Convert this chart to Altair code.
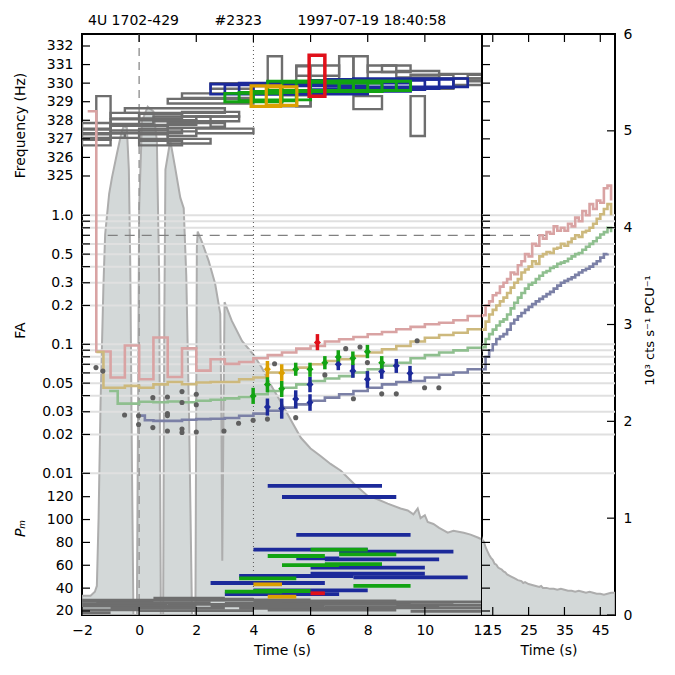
import altair as alt
import pandas as pd

FONT = "DejaVu Sans"
W_LEFT, W_RIGHT, HEIGHT = 400, 133, 581

# ---------------- scale domains ----------------
T_LEFT = [-2, 12]
T_RIGHT = [12, 49.1]
FREQ_DOMAIN = [301.36, 332.646]
FA_DOMAIN = [0.000797, 25.44]
PM_DOMAIN = [16.5, 524.7]
RATE_DOMAIN = [0, 6]

TIME_TICKS_LEFT = [-2, 0, 2, 4, 6, 8, 10, 12]
TIME_TICKS_RIGHT = [15, 25, 35, 45]
FREQ_TICKS = [325, 326, 327, 328, 329, 330, 331, 332]
FA_LABELS = [0.01, 0.02, 0.03, 0.05, 0.1, 0.2, 0.3, 0.5, 1.0]
FA_TICKS = [0.01, 0.02, 0.03, 0.04, 0.05, 0.06, 0.07, 0.08, 0.09,
            0.1, 0.2, 0.3, 0.4, 0.5, 0.6, 0.7, 0.8, 0.9, 1.0]
FA_GRID = [0.01, 0.02, 0.03, 0.04, 0.05, 0.06, 0.07, 0.08, 0.09,
           0.1, 0.2, 0.3, 0.4, 0.5, 0.6, 0.8, 0.9, 1.0]
PM_TICKS = [20, 40, 60, 80, 100, 120]
RATE_TICKS = [0, 1, 2, 3, 4, 5, 6]

# ---------------- light curve (10^3 cts/s/PCU) ----------------
lc_t = [-2.0, -1.7, -1.55, -1.48, -1.42, -1.35, -1.25, -1.19, -1.05, -0.95,
        -0.78, -0.62, -0.54, -0.43, -0.36, -0.31, -0.25, -0.2, -0.08, -0.04,
        0.0, 0.1, 0.3, 0.5, 0.62, 0.7, 0.76, 0.84, 0.88, 0.92,
        1.09, 1.26, 1.44, 1.56, 1.65, 1.75, 1.85, 1.97, 2.02, 2.05,
        2.2, 2.43, 2.66, 2.84, 2.88, 2.91, 2.95, 2.99, 3.24, 3.6,
        4.0, 4.3, 4.6, 5.0, 5.3, 5.66, 6.0, 6.36, 6.7, 7.06,
        7.5, 8.0, 8.3, 8.7, 9.15, 9.4, 9.6, 9.75, 9.85, 10.0,
        10.1, 10.3, 10.5, 10.8, 11.0, 11.36, 11.6, 11.85, 12.0, 12.5,
        13.0, 13.5, 14.0, 14.5, 15.0, 15.5, 16.0, 16.5, 17.0, 17.5,
        18.0, 18.5, 19.0, 19.5, 20.0, 21.0, 22.0, 23.0, 23.5, 24.0,
        25.0, 26.0, 27.0, 28.0, 28.5, 29.0, 30.0, 31.0, 32.0, 33.0,
        34.0, 35.0, 36.0, 37.0, 38.0, 39.0, 40.0, 41.0, 42.0, 43.0,
        44.0, 45.0, 46.0, 47.0, 48.0, 49.1]
lc_rate = [0.2, 0.2, 0.24, 0.3, 1.0, 2.2, 3.4, 3.93, 4.35, 4.52,
           4.76, 4.98, 5.05, 5.03, 4.6, 3.6, 1.5, 0.0, 0.0, 2.0,
           4.2, 5.1, 5.25, 5.2, 4.9, 3.5, 0.0, 0.0, 3.0, 4.6,
           4.9, 4.62, 4.31, 4.2, 3.5, 2.0, 0.0, 0.0, 3.8, 3.96,
           3.85, 3.66, 3.42, 3.11, 2.0, 0.56, 2.0, 3.23, 3.04, 2.83,
           2.69, 2.55, 2.38, 2.18, 2.02, 1.83, 1.72, 1.64, 1.56, 1.49,
           1.36, 1.23, 1.2, 1.15, 1.1, 1.08, 1.04, 1.1, 1.0, 1.03,
           0.96, 0.94, 0.9, 0.85, 0.87, 0.85, 0.83, 0.8, 0.78, 0.76,
           0.7, 0.66, 0.62, 0.59, 0.57, 0.53, 0.52, 0.49, 0.48, 0.47,
           0.45, 0.44, 0.42, 0.41, 0.4, 0.38, 0.36, 0.35, 0.33, 0.34,
           0.32, 0.31, 0.3, 0.29, 0.3, 0.28, 0.28, 0.27, 0.27, 0.26,
           0.27, 0.26, 0.25, 0.25, 0.24, 0.25, 0.24, 0.23, 0.24, 0.23,
           0.22, 0.22, 0.21, 0.22, 0.23, 0.23]

# ---------------- false-alarm curves per window ----------------
fa05_t = [-1.8, -1.5, -1.0, -0.5, 0.0, 0.5, 1.0, 1.5, 2.0, 2.5, 3.0, 3.5, 4.0, 4.5,
          5.0, 5.5, 6.0, 6.5, 7.0, 7.5, 8.0, 8.5, 9.0, 9.5, 10.0, 10.5, 11.0, 11.5]
fa05_v = [6.4, 0.088, 0.0553, 0.098, 0.0536, 0.113, 0.0558, 0.093, 0.0625, 0.0765,
          0.0705, 0.073, 0.078, 0.0825, 0.0864, 0.0925, 0.097, 0.105, 0.1095, 0.114,
          0.1196, 0.1245, 0.1307, 0.1365, 0.143, 0.147, 0.1538, 0.1656]
fa1_t = [-1.5, -1.25, -0.5, 0.0, 0.5, 1.0, 1.5, 2.0, 2.5, 3.0, 3.5, 4.0, 4.5, 5.0,
         5.5, 6.0, 6.5, 7.0, 7.5, 8.0, 8.5, 9.0, 9.5, 10.0, 10.5, 11.0, 11.5]
fa1_v = [0.0872, 0.046, 0.0476, 0.046, 0.0489, 0.051, 0.049, 0.0505, 0.051, 0.051,
         0.0536, 0.0553, 0.0604, 0.063, 0.066, 0.070, 0.0743, 0.0765, 0.0812, 0.0864,
         0.0916, 0.097, 0.105, 0.1125, 0.118, 0.123, 0.1307]
fa2_t = [-1.05, -0.75, 0.0, 0.5, 1.0, 1.5, 2.0, 2.5, 3.0, 3.5, 4.0, 4.5, 5.0, 5.5,
         6.0, 6.5, 7.0, 7.5, 8.0, 8.5, 9.0, 9.5, 10.0, 10.5, 11.0, 11.5]
fa2_v = [0.0435, 0.0347, 0.0359, 0.0355, 0.036, 0.0355, 0.0365, 0.0372, 0.0381, 0.039,
         0.041, 0.0435, 0.046, 0.0489, 0.052, 0.0543, 0.0567, 0.0604, 0.064, 0.0681,
         0.072, 0.078, 0.0825, 0.0864, 0.0897, 0.094]
fa4_t = [-0.05, 0.2, 0.5, 1.0, 1.5, 2.0, 2.5, 3.0, 3.5, 4.0, 4.5, 5.0, 5.5, 6.0,
         6.5, 7.0, 7.5, 8.0, 8.5, 9.0, 9.5, 10.0, 10.5, 11.0, 11.5]
fa4_v = [0.028, 0.0258, 0.0255, 0.0255, 0.026, 0.0263, 0.0265, 0.0268, 0.0279, 0.029,
         0.0305, 0.0323, 0.0342, 0.0365, 0.0386, 0.041, 0.0435, 0.0461, 0.0489, 0.051,
         0.052, 0.0553, 0.058, 0.0604, 0.064]

tail_t = [12, 13, 14, 15, 16, 17, 18, 19, 20, 21, 22, 23, 24, 25, 26, 27, 28, 29, 30,
          31, 32, 33, 34, 35, 36, 37, 38, 39, 40, 41, 42, 43, 44, 45, 46, 47, 48]
tail05_v = [0.168, 0.20, 0.215, 0.24, 0.25, 0.28, 0.30, 0.32, 0.36, 0.35, 0.41, 0.44,
            0.50, 0.48, 0.60, 0.58, 0.70, 0.66, 0.74, 0.72, 0.82, 0.76, 0.80, 0.76,
            0.86, 0.82, 0.96, 0.90, 1.08, 1.00, 1.22, 1.12, 1.30, 1.25, 1.62, 1.70, 1.30]
tail1_v = [0.13, 0.15, 0.17, 0.185, 0.20, 0.215, 0.23, 0.25, 0.275, 0.30, 0.32, 0.36,
           0.38, 0.40, 0.44, 0.42, 0.48, 0.50, 0.52, 0.51, 0.55, 0.56, 0.60, 0.58,
           0.62, 0.66, 0.70, 0.68, 0.74, 0.76, 0.80, 0.86, 0.94, 1.02, 1.12, 1.22, 1.0]
tail2_v = [0.095, 0.11, 0.12, 0.13, 0.14, 0.15, 0.156, 0.17, 0.19, 0.21, 0.23, 0.25,
           0.27, 0.29, 0.30, 0.32, 0.34, 0.36, 0.37, 0.39, 0.40, 0.42, 0.43, 0.44,
           0.46, 0.48, 0.50, 0.51, 0.54, 0.57, 0.60, 0.63, 0.67, 0.71, 0.74, 0.80, 0.74]
tail4_v = [0.064, 0.08, 0.09, 0.10, 0.11, 0.115, 0.12, 0.13, 0.145, 0.155, 0.165, 0.175,
           0.185, 0.195, 0.205, 0.215, 0.225, 0.235, 0.245, 0.255, 0.27, 0.285, 0.30,
           0.31, 0.32, 0.33, 0.345, 0.36, 0.375, 0.385, 0.40, 0.42, 0.44, 0.47, 0.50, 0.505]

# ---------------- individual trials: FA values ----------------
gray_fa = [(-1.51, 0.066), (-1.27, 0.062), (-0.51, 0.0283), (-0.02, 0.0279), (-0.02, 0.0239),
           (0.48, 0.0386), (0.48, 0.0226), (0.99, 0.039), (0.99, 0.029), (0.99, 0.028),
           (0.99, 0.0213), (1.5, 0.043), (1.5, 0.0354), (1.5, 0.022), (1.5, 0.0207),
           (2.0, 0.041), (2.0, 0.034), (2.0, 0.0209), (2.97, 0.0213), (3.48, 0.0244),
           (3.99, 0.0258), (4.49, 0.0263), (4.74, 0.0706), (5.48, 0.027), (6.5, 0.0579),
           (7.23, 0.0925), (7.5, 0.0378), (7.73, 0.0954), (7.99, 0.0721), (8.49, 0.0413),
           (9.0, 0.0413), (9.73, 0.1066), (9.99, 0.0461), (10.49, 0.0461)]

# (time, FA, FA low, FA high)
det_4s = [(4.49, 0.0327, 0.028, 0.038), (4.99, 0.0318, 0.0265, 0.038), (5.48, 0.0376, 0.032, 0.044),
          (5.98, 0.0489, 0.0425, 0.056), (5.98, 0.0354, 0.0305, 0.041), (6.97, 0.070, 0.063, 0.078),
          (7.48, 0.0622, 0.055, 0.070), (7.99, 0.0536, 0.046, 0.062), (8.49, 0.0614, 0.054, 0.070),
          (9.0, 0.0681, 0.060, 0.077), (9.48, 0.0596, 0.052, 0.068)]
det_2s = [(3.99, 0.0397, 0.0345, 0.046), (4.49, 0.0489, 0.0425, 0.056), (4.99, 0.0452, 0.039, 0.052),
          (5.48, 0.064, 0.057, 0.072), (5.98, 0.064, 0.056, 0.072), (6.5, 0.072, 0.064, 0.081),
          (6.97, 0.0798, 0.071, 0.090), (7.48, 0.078, 0.069, 0.088), (7.99, 0.0877, 0.078, 0.099),
          (8.49, 0.072, 0.064, 0.081)]
det_1s = [(4.49, 0.064, 0.0555, 0.0743), (4.99, 0.060, 0.052, 0.070)]
det_05s = [(6.24, 0.1034, 0.090, 0.120)]

# ---------------- frequency boxes (t0, t1, f_lo, f_hi) ----------------
gray_boxes = [(-1.5, -1.0, 326.95, 329.3), (-2.0, -1.0, 327.55, 327.85), (-2.0, -1.0, 327.25, 327.5),
              (-2.0, -1.0, 326.65, 326.95), (-2.0, -0.5, 327.05, 327.3), (-1.0, 0.0, 328.1, 328.4),
              (-1.0, 0.5, 327.8, 328.05), (-1.0, 1.0, 327.45, 327.7), (-1.0, 0.0, 327.05, 327.3),
              (-0.5, 3.0, 328.4, 328.65), (0.0, 1.5, 328.1, 328.35), (0.0, 2.0, 327.75, 328.0),
              (0.0, 1.5, 327.3, 327.55), (0.0, 1.5, 326.65, 326.9), (0.0, 1.0, 327.0, 327.25),
              (0.5, 2.5, 327.95, 328.2), (1.0, 4.0, 328.9, 329.15), (1.0, 3.0, 327.6, 327.85),
              (1.0, 2.0, 327.15, 327.4), (1.0, 2.5, 326.75, 327.0), (1.5, 4.0, 329.2, 329.45),
              (1.5, 3.5, 328.2, 328.45), (2.0, 4.0, 327.3, 327.55), (2.0, 3.5, 327.95, 328.2),
              (2.5, 4.0, 329.7, 330.0), (2.5, 3.0, 327.65, 327.9), (4.5, 5.0, 330.0, 331.45),
              (5.5, 6.0, 328.75, 330.9), (5.0, 6.0, 328.75, 329.35), (5.5, 7.0, 330.4, 330.95),
              (7.0, 7.5, 330.1, 331.45), (7.5, 8.0, 330.1, 331.45), (7.5, 8.5, 328.6, 329.3),
              (8.0, 9.0, 330.6, 330.95), (8.5, 9.5, 330.6, 330.95), (9.0, 10.5, 330.3, 330.65),
              (9.5, 11.0, 329.7, 330.45), (9.5, 10.0, 327.15, 329.3), (10.5, 12.0, 330.25, 330.5),
              (11.0, 12.0, 329.9, 330.25), (11.5, 12.5, 330.1, 330.45)]
blue_boxes = [(2.5, 6.5, 329.4, 329.95), (3.0, 7.0, 329.45, 329.9), (3.5, 7.5, 329.5, 330.0),
              (4.0, 8.0, 329.4, 329.85), (4.5, 8.5, 329.55, 330.05), (5.0, 9.0, 329.6, 330.1),
              (5.5, 9.5, 329.55, 330.0), (6.0, 10.0, 329.65, 330.15), (6.5, 10.5, 329.7, 330.2),
              (7.0, 11.0, 329.75, 330.2), (7.5, 11.5, 329.8, 330.25)]
green_boxes = [(3.0, 5.0, 329.0, 329.45), (3.5, 5.5, 329.05, 329.5), (4.0, 6.0, 329.1, 329.55),
               (4.5, 6.5, 329.6, 330.1), (5.0, 7.0, 329.55, 330.05), (5.5, 7.5, 329.6, 330.1),
               (6.0, 8.0, 329.6, 330.1), (6.5, 8.5, 329.55, 330.0), (7.0, 9.0, 329.6, 330.1),
               (7.5, 9.5, 329.6, 330.1)]
orange_boxes = [(3.92, 4.95, 328.75, 329.85), (4.45, 5.52, 328.8, 329.8)]
red_boxes = [(5.95, 6.5, 329.3, 331.5)]

# ---------------- Pm per trial (t0, t1, Pm) ----------------
gray_pm = [(0.5, 3.0, 31.2), (1.0, 4.0, 30.4), (-2.0, 3.0, 29.5), (2.0, 6.0, 29.8),
           (-2.0, 0.5, 28.4), (4.0, 9.0, 28.9), (6.0, 12.0, 28.0), (-1.5, 2.5, 27.3),
           (3.0, 7.0, 27.0), (7.5, 11.0, 27.5), (-2.0, 1.0, 26.2), (1.0, 5.0, 25.8),
           (5.0, 9.5, 26.0), (9.0, 12.0, 25.1), (-2.0, 2.0, 24.2), (2.5, 6.5, 24.5),
           (6.5, 10.5, 23.8), (-1.0, 3.0, 22.6), (3.5, 8.0, 22.3), (8.0, 12.0, 22.8),
           (-2.0, 0.0, 21.0), (0.0, 4.0, 20.4), (4.5, 9.0, 20.8), (9.5, 12.0, 19.8),
           (-2.0, -1.0, 18.5)]
blue_pm = [(4.5, 8.5, 129.4), (5.0, 9.0, 119.7), (5.5, 9.5, 86.5), (4.0, 8.0, 73.6),
           (7.0, 11.0, 72.0), (5.5, 7.0, 66.0), (6.5, 10.5, 65.2), (6.0, 10.0, 58.0),
           (6.0, 10.0, 52.6), (3.5, 7.5, 50.6), (7.5, 11.5, 49.4), (2.5, 6.5, 44.5),
           (4.0, 8.0, 38.1), (3.0, 7.0, 34.8)]
green_pm = [(6.0, 8.0, 73.7), (4.5, 6.5, 68.1), (7.0, 9.0, 69.5), (5.0, 7.0, 60.2),
            (6.5, 8.5, 61.0), (3.5, 5.5, 48.6), (7.5, 9.5, 41.9), (3.0, 5.0, 36.9),
            (4.0, 6.0, 37.5)]
orange_pm = [(4.0, 5.0, 43.3), (4.5, 5.5, 32.5)]
red_pm = [(6.0, 6.5, 35.5)]

THRESHOLD_FA = 0.7
THRESHOLD_SPAN = (-1.1, 30.0)

# ---------------- styling ----------------
WINDOWS = ["none", "4 s", "2 s", "1 s", "0.5 s"]
WIN_COLORS = ["#6e6e6e", "#1c2a9a", "#12a312", "#dca000", "#e0101a"]
WIN_WIDTHS = [2.4, 3.5, 3.5, 3.5, 3.5]
CURVES = ["0.5 s", "1 s", "2 s", "4 s"]
CURVE_COLORS = ["#d9a3a3", "#cdb97d", "#8fbf8f", "#7b80a6"]
LC_FILL = "#d3d8d8"
LC_EDGE = "#adadad"
GRID = "#e0e0e0"

# ---------------- frames ----------------
lc_df = pd.DataFrame({"t": lc_t, "rate": lc_rate})

curve_rows = []
for name, ts, vs, tv in [("0.5 s", fa05_t, fa05_v, tail05_v), ("1 s", fa1_t, fa1_v, tail1_v),
                         ("2 s", fa2_t, fa2_v, tail2_v), ("4 s", fa4_t, fa4_v, tail4_v)]:
    for t, v in zip(list(ts) + tail_t[:len(tv)], list(vs) + list(tv)):
        curve_rows.append({"t": t, "fa": v, "curve": name})
curve_df = pd.DataFrame(curve_rows)

gray_df = pd.DataFrame(gray_fa, columns=["t", "fa"])
det_rows = []
for name, pts in [("4 s", det_4s), ("2 s", det_2s), ("1 s", det_1s), ("0.5 s", det_05s)]:
    for t, fa, lo, hi in pts:
        det_rows.append({"t": t, "fa": fa, "lo": lo, "hi": hi, "win": name})
det_df = pd.DataFrame(det_rows)

box_rows = []
for name, boxes in [("none", gray_boxes), ("4 s", blue_boxes), ("2 s", green_boxes),
                    ("1 s", orange_boxes), ("0.5 s", red_boxes)]:
    for t0, t1, lo, hi in boxes:
        box_rows.append({"t0": t0, "t1": t1, "f_lo": lo, "f_hi": hi, "win": name})
box_df = pd.DataFrame(box_rows)

gray_pm_df = pd.DataFrame(gray_pm, columns=["t0", "t1", "pm"])
pm_rows = []
for name, bars in [("4 s", blue_pm), ("2 s", green_pm), ("1 s", orange_pm), ("0.5 s", red_pm)]:
    for t0, t1, pm in bars:
        pm_rows.append({"t0": t0, "t1": t1, "pm": pm, "win": name})
pm_df = pd.DataFrame(pm_rows)

grid_df = pd.DataFrame({"fa": FA_GRID})
thr_df = pd.DataFrame({"t0": [THRESHOLD_SPAN[0]], "t1": [THRESHOLD_SPAN[1]], "fa": [THRESHOLD_FA]})

# ---------------- encodings ----------------
X_AXES = {
    "L": alt.Axis(values=TIME_TICKS_LEFT, format="d", title="Time (s)", ticks=False, domain=False,
                  grid=False, labelFlush=False, labelPadding=8, titlePadding=6, labelOverlap=False),
    "R": alt.Axis(values=TIME_TICKS_RIGHT, format="d", title="Time (s)", ticks=False, domain=False,
                  grid=False, labelFlush=False, labelPadding=8, titlePadding=6, labelOverlap=False),
}


def xq(field, side):
    dom = T_LEFT if side == "L" else T_RIGHT
    return alt.X(field, type="quantitative", scale=alt.Scale(domain=dom, nice=False, zero=False),
                 axis=X_AXES[side])


def yq(field, kind, axis=None):
    if kind == "fa":
        scale = alt.Scale(type="log", domain=FA_DOMAIN, nice=False)
    elif kind == "freq":
        scale = alt.Scale(domain=FREQ_DOMAIN, nice=False, zero=False)
    elif kind == "pm":
        scale = alt.Scale(domain=PM_DOMAIN, nice=False, zero=False)
    else:
        scale = alt.Scale(domain=RATE_DOMAIN, nice=False, zero=False)
    return alt.Y(field, type="quantitative", scale=scale, axis=axis)


def left_axis(values, title, title_y, fmt, **kw):
    return alt.Axis(orient="left", values=values, format=fmt, ticks=False, domain=False, grid=False,
                    labelPadding=9, labelOverlap=False, title=title, titleX=-62, titleY=title_y,
                    titleAngle=270, titleAlign="center", titleBaseline="middle", **kw)


FREQ_AXIS = left_axis(FREQ_TICKS, "Frequency (Hz)", 91, "d")
FA_AXIS = left_axis(FA_LABELS, "FA", 296, "~g", labelExpr="datum.value == 1 ? '1.0' : datum.label")
PM_AXIS = left_axis(PM_TICKS, "Pₘ", 494, "d", titleFontStyle="italic")
RATE_AXIS = alt.Axis(orient="right", values=RATE_TICKS, format="d", ticks=False, domain=False,
                     grid=False, labelPadding=8, labelOverlap=False,
                     title="10³ cts s⁻¹ PCU⁻¹", titleX=34, titleY=296, titleAngle=270,
                     titleAlign="center", titleBaseline="middle", titleFontSize=13)

win_stroke = alt.Stroke("win:N", scale=alt.Scale(domain=WINDOWS, range=WIN_COLORS), legend=None)
win_fill = alt.Fill("win:N", scale=alt.Scale(domain=WINDOWS, range=WIN_COLORS), legend=None)
win_width = alt.StrokeWidth("win:N", scale=alt.Scale(domain=WINDOWS, range=WIN_WIDTHS), legend=None)


def panel_common(side, rate_axis=None):
    area = alt.Chart(lc_df).mark_area(clip=True, fill=LC_FILL, stroke=LC_EDGE, strokeWidth=2).encode(
        x=xq("t", side), y=yq("rate", "rate", rate_axis))
    grid = alt.Chart(grid_df).mark_rule(color=GRID, strokeWidth=2).encode(y=yq("fa", "fa"))
    thr = alt.Chart(thr_df).mark_rule(clip=True, color="#808080", strokeWidth=1.2,
                                      strokeDash=[10, 7]).encode(
        x=xq("t0", side), x2="t1", y=yq("fa", "fa"))
    return area, grid, thr


def curves(side, axis=None):
    # one layer per window so each curve keeps its own fixed colour
    out = []
    for name, colour in zip(CURVES, CURVE_COLORS):
        out.append(alt.Chart(curve_df).transform_filter(alt.datum.curve == name).mark_line(
            clip=True, interpolate="step-after", strokeWidth=2.6, color=colour).encode(
            x=xq("t", side), y=yq("fa", "fa", axis if name == CURVES[0] else None)))
    return out


def edge_ticks(side, at_right=False, length=8):
    w = W_LEFT if side == "L" else W_RIGHT
    x0, x1 = (w - length, w) if at_right else (0, length)
    out = []
    for vals, kind in [(FA_TICKS, "fa"), (FREQ_TICKS, "freq"), (PM_TICKS, "pm")]:
        out.append(alt.Chart(pd.DataFrame({"v": vals})).mark_rule(color="black", strokeWidth=1.2).encode(
            y=yq("v", kind), x=alt.value(x0), x2=alt.value(x1)))
    return out


def time_ticks(side, length=8):
    vals = TIME_TICKS_LEFT if side == "L" else TIME_TICKS_RIGHT
    df = pd.DataFrame({"v": vals})
    top = alt.Chart(df).mark_rule(color="black", strokeWidth=1.2).encode(
        x=xq("v", side), y=alt.value(0), y2=alt.value(length))
    bottom = alt.Chart(df).mark_rule(color="black", strokeWidth=1.2).encode(
        x=xq("v", side), y=alt.value(HEIGHT), y2=alt.value(HEIGHT - length))
    return [top, bottom]


# ---------------- left panel ----------------
area_L, grid_L, thr_L = panel_common("L")
burst_start = alt.Chart(pd.DataFrame({"t": [0.0]})).mark_rule(
    color="#9a9a9a", strokeWidth=1.5, strokeDash=[8, 6]).encode(x=xq("t", "L"))
window_mark = alt.Chart(pd.DataFrame({"t": [4.0]})).mark_rule(
    color="#555555", strokeWidth=1, strokeDash=[1, 3]).encode(x=xq("t", "L"))
boxes = alt.Chart(box_df).mark_rect(clip=True, fillOpacity=0).encode(
    x=xq("t0", "L"), x2="t1", y=yq("f_lo", "freq", FREQ_AXIS), y2="f_hi",
    stroke=win_stroke, strokeWidth=win_width)
dots = alt.Chart(gray_df).mark_circle(size=26, color="#5f5f5f", opacity=1).encode(
    x=xq("t", "L"), y=yq("fa", "fa"))
errs = alt.Chart(det_df).mark_rule(strokeWidth=3.5).encode(
    x=xq("t", "L"), y=yq("lo", "fa"), y2="hi", stroke=win_stroke)
diamonds = alt.Chart(det_df).mark_point(shape="diamond", filled=True, size=50, opacity=1).encode(
    x=xq("t", "L"), y=yq("fa", "fa"), fill=win_fill)
pm_gray = alt.Chart(gray_pm_df).mark_rule(clip=True, strokeWidth=2.8, color=WIN_COLORS[0]).encode(
    x=xq("t0", "L"), x2="t1", y=yq("pm", "pm", PM_AXIS))
pm_bars = alt.Chart(pm_df).mark_rule(clip=True, strokeWidth=3.8).encode(
    x=xq("t0", "L"), x2="t1", y=yq("pm", "pm"), stroke=win_stroke)

left = alt.layer(
    area_L, grid_L, thr_L, burst_start, window_mark, boxes, *curves("L", FA_AXIS), dots, errs,
    diamonds, pm_gray, pm_bars, *edge_ticks("L"), *time_ticks("L")
).resolve_scale(y="independent").properties(width=W_LEFT, height=HEIGHT)

# ---------------- right panel ----------------
area_R, grid_R, thr_R = panel_common("R", RATE_AXIS)
rate_ticks = alt.Chart(pd.DataFrame({"v": RATE_TICKS})).mark_rule(color="black", strokeWidth=1.2).encode(
    y=yq("v", "rate"), x=alt.value(W_RIGHT - 8), x2=alt.value(W_RIGHT))
right = alt.layer(
    area_R, grid_R, thr_R, *curves("R"), *edge_ticks("R"), rate_ticks, *time_ticks("R")
).resolve_scale(y="independent").properties(width=W_RIGHT, height=HEIGHT)

NB = "\u00a0" * 8
chart = alt.hconcat(left, right, spacing=0, bounds="flush").properties(
    title=alt.TitleParams(text=f"4U 1702-429{NB}#2323{NB}1997-07-19 18:40:58", font=FONT, fontSize=14,
                          fontWeight="normal", color="black", anchor="start", dx=76, offset=-2),
    padding={"left": 12, "top": 14, "right": 8, "bottom": 8},
).configure_view(stroke="black", strokeWidth=2).configure_axis(
    labelFont=FONT, titleFont=FONT, labelFontSize=14, titleFontSize=14,
    labelColor="black", titleColor="black", titleFontWeight="normal")

chart.save("out.html", embed_options={"renderer": "svg", "actions": False})
